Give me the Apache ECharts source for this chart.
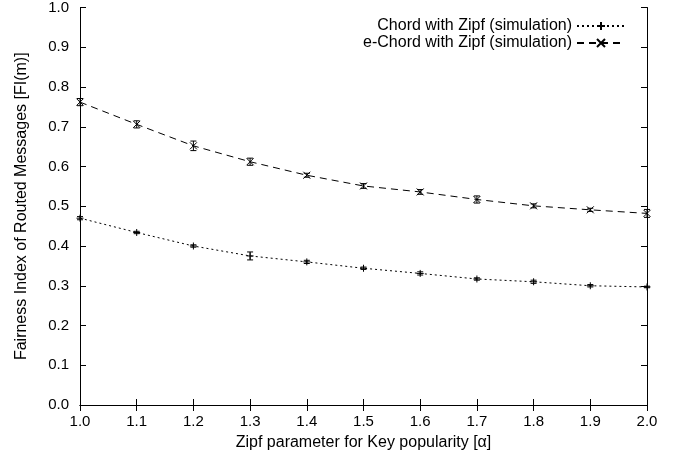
<!DOCTYPE html>
<html><head><meta charset="utf-8">
<script src="https://cdn.jsdelivr.net/npm/echarts@6/dist/echarts.min.js"></script>
<style>html,body{margin:0;padding:0;background:#fff}#c{width:683px;height:464px}</style>
</head><body><div id="c"></div>
<script>
var alphas = [1.0,1.1,1.2,1.3,1.4,1.5,1.6,1.7,1.8,1.9,2.0];
var chordVals = [0.470,0.434,0.400,0.375,0.360,0.344,0.331,0.317,0.310,0.300,0.297];
var chordErr  = [0.004,0.003,0.003,0.010,0.004,0.003,0.004,0.003,0.004,0.003,0.002];
var echordVals = [0.762,0.706,0.652,0.612,0.578,0.551,0.536,0.517,0.501,0.491,0.482];
var echordErr  = [0.009,0.009,0.012,0.009,0.005,0.006,0.006,0.009,0.005,0.004,0.010];
var seriesNames = ['Chord with Zipf (simulation)','e-Chord with Zipf (simulation)'];
var xTitle = 'Zipf parameter for Key popularity [\u03b1]';
var yTitle = 'Fairness Index of Routed Messages [FI(m)]';

function pairs(v){ return alphas.map(function(a,i){return [a,v[i]];}); }
function errData(v,e){ return alphas.map(function(a,i){return [a,v[i]-e[i],v[i]+e[i]];}); }
function errRender(params, api){
  var x = api.value(0);
  var lo = api.coord([x, api.value(1)]);
  var hi = api.coord([x, api.value(2)]);
  var w = 3;
  return {type:'group', children:[
    {type:'line', shape:{x1:lo[0],y1:lo[1],x2:hi[0],y2:hi[1]}, style:{stroke:'#000',lineWidth:1}},
    {type:'line', shape:{x1:lo[0]-w,y1:lo[1],x2:lo[0]+w,y2:lo[1]}, style:{stroke:'#000',lineWidth:1}},
    {type:'line', shape:{x1:hi[0]-w,y1:hi[1],x2:hi[0]+w,y2:hi[1]}, style:{stroke:'#000',lineWidth:1}}
  ]};
}
var font = 'Liberation Sans, Arial, sans-serif';
var plusPath = 'path://M0,5L10,5M5,0L5,10';
var crossPath = 'path://M0,0L10,10M10,0L0,10';
var chart = echarts.init(document.getElementById('c'));
var tickStyle = {show:true, inside:true, length:6, lineStyle:{color:'#000',width:1}};
chart.setOption({
  animation:false,
  backgroundColor:'#fff',
  grid:{left:80,right:36,top:7,bottom:59,containLabel:false},
  legend:{
    orient:'vertical', right:52, top:13, align:'right', itemGap:1, itemWidth:48, itemHeight:10,
    textStyle:{fontFamily:font,fontSize:16,color:'#000'},
    data:seriesNames
  },
  xAxis:[{
    type:'value', min:1.0, max:2.0, interval:0.1,
    name:xTitle, nameLocation:'middle', nameGap:30,
    nameTextStyle:{fontFamily:font,fontSize:16,color:'#000'},
    axisLine:{lineStyle:{color:'#000',width:1}},
    axisTick:tickStyle,
    axisLabel:{fontFamily:font,fontSize:15,color:'#000',margin:9,formatter:function(v){return v.toFixed(1);}},
    splitLine:{show:false}
  },{
    type:'value', position:'top', min:1.0, max:2.0, interval:0.1,
    axisLine:{lineStyle:{color:'#000',width:1}},
    axisTick:tickStyle, axisLabel:{show:false}, splitLine:{show:false}
  }],
  yAxis:[{
    type:'value', min:0, max:1.0, interval:0.1,
    name:yTitle, nameLocation:'middle', nameGap:50,
    nameTextStyle:{fontFamily:font,fontSize:16,color:'#000'},
    axisLine:{show:true,lineStyle:{color:'#000',width:1}},
    axisTick:tickStyle,
    axisLabel:{fontFamily:font,fontSize:15,color:'#000',margin:11,formatter:function(v){return v.toFixed(1);}},
    splitLine:{show:false}
  },{
    type:'value', position:'right', min:0, max:1.0, interval:0.1,
    axisLine:{show:true,lineStyle:{color:'#000',width:1}},
    axisTick:tickStyle, axisLabel:{show:false}, splitLine:{show:false}
  }],
  series:[
    {name:seriesNames[0], type:'line', data:pairs(chordVals), symbol:plusPath, symbolSize:7,
     showSymbol:true, lineStyle:{color:'#000',width:1,type:[2,3]},
     itemStyle:{color:'#000',borderColor:'#000',borderWidth:1}, z:3},
    {name:seriesNames[1], type:'line', data:pairs(echordVals), symbol:crossPath, symbolSize:7,
     showSymbol:true, lineStyle:{color:'#000',width:1,type:[7,5]},
     itemStyle:{color:'#000',borderColor:'#000',borderWidth:1}, z:3},
    {type:'custom', renderItem:errRender, data:errData(chordVals,chordErr), z:2, silent:true},
    {type:'custom', renderItem:errRender, data:errData(echordVals,echordErr), z:2, silent:true}
  ]
});
</script></body></html>
